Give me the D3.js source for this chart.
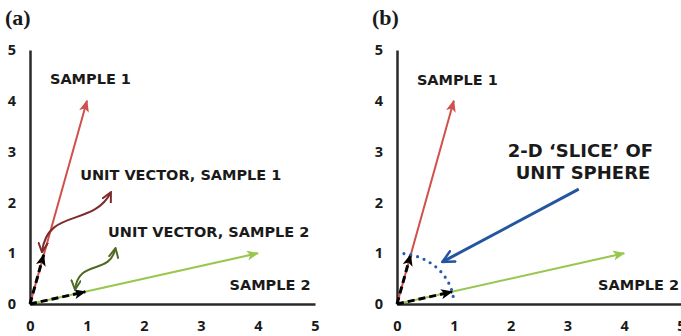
<!DOCTYPE html>
<html>
<head>
<meta charset="utf-8">
<script src="https://cdn.jsdelivr.net/npm/d3@7"></script>
<style>
  body { margin: 0; background: #fff; }
  text { font-family: "DejaVu Sans", sans-serif; font-weight: bold; fill: #1a1a1a; }
</style>
</head>
<body>
<svg id="chart" width="681" height="336"></svg>
<script>
// axis ticks, shared by both panels
const ticks = [0, 1, 2, 3, 4, 5]

// the two sample vectors and their unit vectors
const sample1 = [1, 4]
const sample2 = [4, 1]
const unit1 = [0.24, 0.97]
const unit2 = [0.97, 0.24]

// curved pointers in panel (a): cubic control points, data units
const pointer1 = [[0.21, 1.02], [0.30, 1.90], [1.10, 1.50], [1.42, 2.20]]
const pointer2 = [[0.79, 0.28], [0.85, 0.90], [1.40, 0.55], [1.50, 1.10]]

// panel (b): blue pointer and the dotted quarter circle (angles in degrees)
const slicePointer = [[3.2, 2.26], [0.8, 0.83]]
const arcAngles = [83, 5]

const labelsA = [
  { text: 'SAMPLE 1', x: 0.35, y: 4.33 },
  { text: 'UNIT VECTOR, SAMPLE 1', x: 0.88, y: 2.44 },
  { text: 'UNIT VECTOR, SAMPLE 2', x: 1.37, y: 1.32 },
  { text: 'SAMPLE 2', x: 3.5, y: 0.27 }
]
const labelsB = [
  { text: 'SAMPLE 1', x: 0.35, y: 4.31, size: 14.5 },
  { text: '2-D \u2018SLICE\u2019 OF', x: 1.95, y: 2.9, size: 18 },
  { text: 'UNIT SPHERE', x: 2.09, y: 2.47, size: 18 },
  { text: 'SAMPLE 2', x: 3.54, y: 0.27, size: 14.5 }
]

const svg = d3.select('#chart')
const defs = svg.append('defs')

function solidHead(id, color) {
  defs.append('marker')
    .attr('id', id)
    .attr('viewBox', '0 0 12 10')
    .attr('refX', 11).attr('refY', 5)
    .attr('markerWidth', 12).attr('markerHeight', 10)
    .attr('markerUnits', 'userSpaceOnUse')
    .attr('orient', 'auto')
    .append('path')
    .attr('d', 'M0,0 L12,5 L0,10 L3,5 Z')
    .attr('fill', color)
}

function openHead(id, color, size) {
  defs.append('marker')
    .attr('id', id)
    .attr('viewBox', '0 0 10 10')
    .attr('refX', 9).attr('refY', 5)
    .attr('markerWidth', size).attr('markerHeight', size)
    .attr('markerUnits', 'userSpaceOnUse')
    .attr('orient', 'auto-start-reverse')
    .append('path')
    .attr('d', 'M0,0.5 L9,5 L0,9.5')
    .attr('fill', 'none')
    .attr('stroke', color)
    .attr('stroke-width', 1.8)
}

solidHead('head-red', '#d0504c')
solidHead('head-green', '#98c64e')
solidHead('head-black', '#000')
openHead('open-red', '#7e2b2b', 11)
openHead('open-green', '#4f6a22', 11)
openHead('open-blue', '#2456a0', 14)

function drawPanel(left, right, name) {
  const x = d3.scaleLinear().domain([0, 5]).range([left, right])
  const y = d3.scaleLinear().domain([0, 5]).range([304, 50])
  const g = svg.append('g')

  // panel letter
  g.append('text')
    .attr('x', left - 25).attr('y', 25)
    .style('font-family', '"Liberation Serif", "DejaVu Serif", serif')
    .style('font-size', '22px')
    .text('(' + name + ')')

  const xAxis = g.append('g')
    .attr('transform', 'translate(0,' + y(0) + ')')
    .call(d3.axisBottom(x).tickValues(ticks).tickFormat(d3.format('d')).tickSize(0).tickPadding(17))
  const yAxis = g.append('g')
    .attr('transform', 'translate(' + x(0) + ',0)')
    .call(d3.axisLeft(y).tickValues(ticks).tickFormat(d3.format('d')).tickSize(0).tickPadding(14))
  ;[xAxis, yAxis].forEach(a => {
    a.select('.domain').attr('stroke', '#2a2a2a').attr('stroke-width', 2.5)
    a.selectAll('text').style('font-size', '14.5px').attr('fill', '#1a1a1a')
      .style('font-family', '"Open Sans", sans-serif')
  })

  // sample vectors
  g.append('line')
    .attr('x1', x(0)).attr('y1', y(0))
    .attr('x2', x(sample1[0])).attr('y2', y(sample1[1]))
    .attr('stroke', '#d0504c').attr('stroke-width', 2)
    .attr('marker-end', 'url(#head-red)')
  g.append('line')
    .attr('x1', x(0)).attr('y1', y(0))
    .attr('x2', x(sample2[0])).attr('y2', y(sample2[1]))
    .attr('stroke', '#98c64e').attr('stroke-width', 2)
    .attr('marker-end', 'url(#head-green)')

  // unit vectors, dashed
  ;[unit1, unit2].forEach(u => {
    g.append('line')
      .attr('x1', x(0)).attr('y1', y(0))
      .attr('x2', x(u[0])).attr('y2', y(u[1]))
      .attr('stroke', '#000').attr('stroke-width', 3)
      .attr('stroke-dasharray', '7 4')
      .attr('marker-end', 'url(#head-black)')
  })

  return { g, x, y }
}

const a = drawPanel(30, 315, 'a')
const b = drawPanel(397, 681, 'b')

// panel (a) curved pointers
function bezier(p, x, y) {
  const path = d3.path()
  path.moveTo(x(p[0][0]), y(p[0][1]))
  path.bezierCurveTo(x(p[1][0]), y(p[1][1]), x(p[2][0]), y(p[2][1]), x(p[3][0]), y(p[3][1]))
  return path.toString()
}
a.g.append('path')
  .attr('d', bezier(pointer1, a.x, a.y))
  .attr('fill', 'none').attr('stroke', '#7e2b2b').attr('stroke-width', 2)
  .attr('marker-start', 'url(#open-red)').attr('marker-end', 'url(#open-red)')
a.g.append('path')
  .attr('d', bezier(pointer2, a.x, a.y))
  .attr('fill', 'none').attr('stroke', '#4f6a22').attr('stroke-width', 2)
  .attr('marker-start', 'url(#open-green)').attr('marker-end', 'url(#open-green)')

a.g.selectAll('.lbl')
  .data(labelsA)
  .enter()
  .append('text')
  .attr('x', d => a.x(d.x)).attr('y', d => a.y(d.y))
  .style('font-size', '14.5px')
  .text(d => d.text)

// panel (b) dotted quarter of the unit circle
const arcPts = d3.range(arcAngles[0], arcAngles[1] - 0.01, -0.5)
  .map(deg => [Math.cos(deg * Math.PI / 180), Math.sin(deg * Math.PI / 180)])
b.g.append('path')
  .attr('d', d3.line().x(d => b.x(d[0])).y(d => b.y(d[1]))(arcPts))
  .attr('fill', 'none').attr('stroke', '#2a5aa8').attr('stroke-width', 3.2)
  .attr('stroke-linecap', 'round').attr('stroke-dasharray', '0 7')

b.g.append('line')
  .attr('x1', b.x(slicePointer[0][0])).attr('y1', b.y(slicePointer[0][1]))
  .attr('x2', b.x(slicePointer[1][0])).attr('y2', b.y(slicePointer[1][1]))
  .attr('stroke', '#2456a0').attr('stroke-width', 3)
  .attr('marker-end', 'url(#open-blue)')

b.g.selectAll('.lbl')
  .data(labelsB)
  .enter()
  .append('text')
  .attr('x', d => b.x(d.x)).attr('y', d => b.y(d.y))
  .style('font-size', d => d.size + 'px')
  .text(d => d.text)
</script>
</body>
</html>
